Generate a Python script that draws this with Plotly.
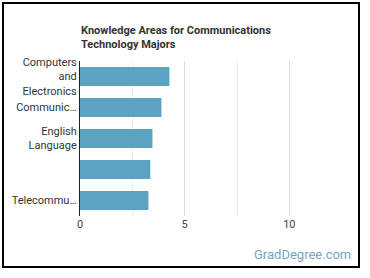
import plotly.graph_objects as go

categories = ["Computers and Electronics", "Communications and Media", "English Language", "Mathematics", "Telecommunications"]
tick_labels = ["Computers<br>and<br>Electronics", "Communic…", "English<br>Language", "", "Telecommu…"]
values = [4.27, 3.89, 3.46, 3.36, 3.27]
x_ticks = [0, 5, 10]

W, H = 370, 278
L, R, T, B = 80, 30, 61, 62
pw, ph = W - L - R, H - T - B

def px_x(p):
    return (p - L) / pw

def px_y(p):
    return (H - B - p) / ph

fig = go.Figure(go.Bar(
    x=values, y=categories, orientation="h",
    marker=dict(color="#5ba3c1", line=dict(width=0)),
    width=0.62,
    hoverinfo="skip",
))

fig.update_layout(
    width=W, height=H,
    margin=dict(l=L, r=R, t=T, b=B),
    paper_bgcolor="white", plot_bgcolor="white",
    font=dict(family="Roboto", size=11, color="#333"),
    showlegend=False,
    xaxis=dict(range=[0, 12.42], tickvals=x_ticks, ticktext=[str(v) for v in x_ticks],
               showgrid=True, gridcolor="#dddddd", gridwidth=1,
               minor=dict(dtick=2.5, showgrid=True, gridcolor="#eeeeee", gridwidth=1),
               zeroline=False, showline=False, ticks="",
               tickfont=dict(size=11, color="#444"), fixedrange=True),
    yaxis=dict(categoryorder="array", categoryarray=categories, autorange=False,
               range=[4.5, -0.5], tickvals=categories, ticktext=tick_labels,
               showline=True, linecolor="#222", linewidth=1, ticks="",
               showgrid=False, zeroline=False,
               tickfont=dict(size=11, color="#333"), fixedrange=True),
    annotations=[
        dict(text="<b>Knowledge Areas for Communications<br>Technology Majors</b>",
             xref="paper", yref="paper", x=px_x(79), y=px_y(22),
             xanchor="left", yanchor="top", align="left", showarrow=False,
             font=dict(size=11, color="#333", family="Roboto")),
        dict(text="GradDegree.com", xref="paper", yref="paper",
             x=px_x(353), y=px_y(255), xanchor="right", yanchor="middle",
             showarrow=False, font=dict(size=13, color="#76a5c4", family="Roboto")),
    ],
    shapes=[
        dict(type="rect", xref="paper", yref="paper",
             x0=px_x(3), x1=px_x(359), y0=px_y(267), y1=px_y(3),
             line=dict(color="black", width=2), fillcolor="rgba(0,0,0,0)", layer="above"),
    ],
)

fig.write_html("out.html")
